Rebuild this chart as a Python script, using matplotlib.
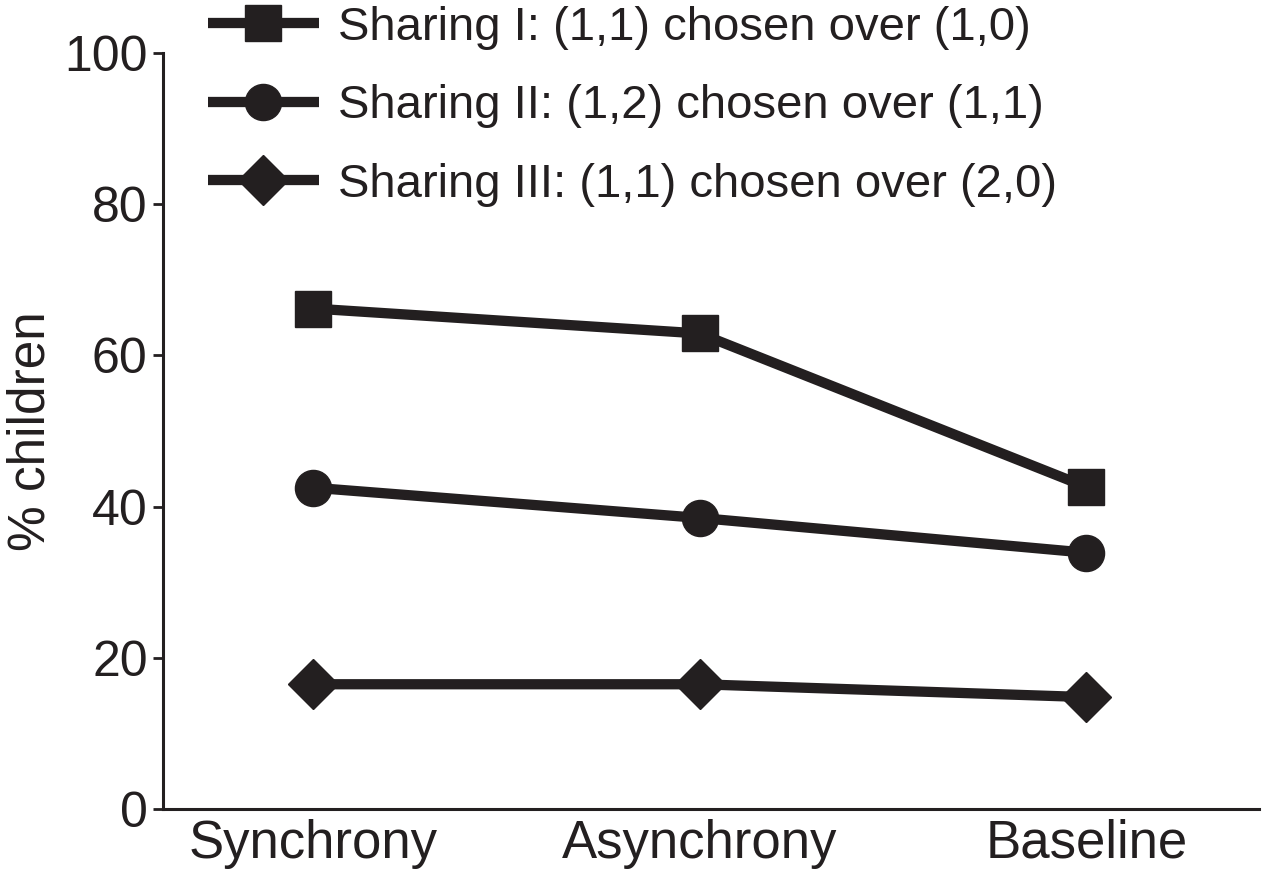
import matplotlib
matplotlib.use("Agg")
import matplotlib.pyplot as plt

plt.rcParams['font.family'] = ['Liberation Sans', 'DejaVu Sans']

conditions = ["Synchrony", "Asynchrony", "Baseline"]
sharing_1 = [66.2, 62.9, 42.6]
sharing_2 = [42.5, 38.5, 33.9]
sharing_3 = [16.5, 16.5, 14.8]
labels = ["Sharing I: (1,1) chosen over (1,0)",
          "Sharing II: (1,2) chosen over (1,1)",
          "Sharing III: (1,1) chosen over (2,0)"]
yticks = [0, 20, 40, 60, 80, 100]

col = '#231f20'
fig = plt.figure(figsize=(12.68, 8.76), dpi=100)
ax = fig.add_axes([0.1285, 0.0765, 0.8645, 0.863])

x = list(range(len(conditions)))
for vals, m, lab in zip([sharing_1, sharing_2, sharing_3], ['s', 'o', 'D'], labels):
	ms = 26 if m != 'D' else 25
	ax.plot(x, vals, color=col, lw=7.4, marker=m, markersize=ms, label=lab,
		solid_capstyle='butt', clip_on=False)

ax.set_xlim(-0.388, 2.447)
ax.set_ylim(0, 100)
ax.set_yticks(yticks)
ax.set_yticklabels([str(t) for t in yticks])
ax.set_xticks(x)
ax.set_xticklabels(conditions)
ax.tick_params(axis='y', labelsize=36, length=7, width=2, color=col, labelcolor=col, pad=4)
ax.tick_params(axis='x', labelsize=38, length=0, labelcolor=col, pad=7)
ax.set_ylabel("% children", fontsize=37, color=col, labelpad=6)
for s in ['top', 'right']:
	ax.spines[s].set_visible(False)
for s in ['left', 'bottom']:
	ax.spines[s].set_linewidth(2.2)
	ax.spines[s].set_color(col)

leg = fig.legend(loc='upper left', bbox_to_anchor=(0.149, 1.015), frameon=False,
	fontsize=34, handlelength=2.35, handletextpad=0.4, labelspacing=0.73,
	borderaxespad=0, labelcolor=col)

fig.savefig("out.png", dpi=100)
